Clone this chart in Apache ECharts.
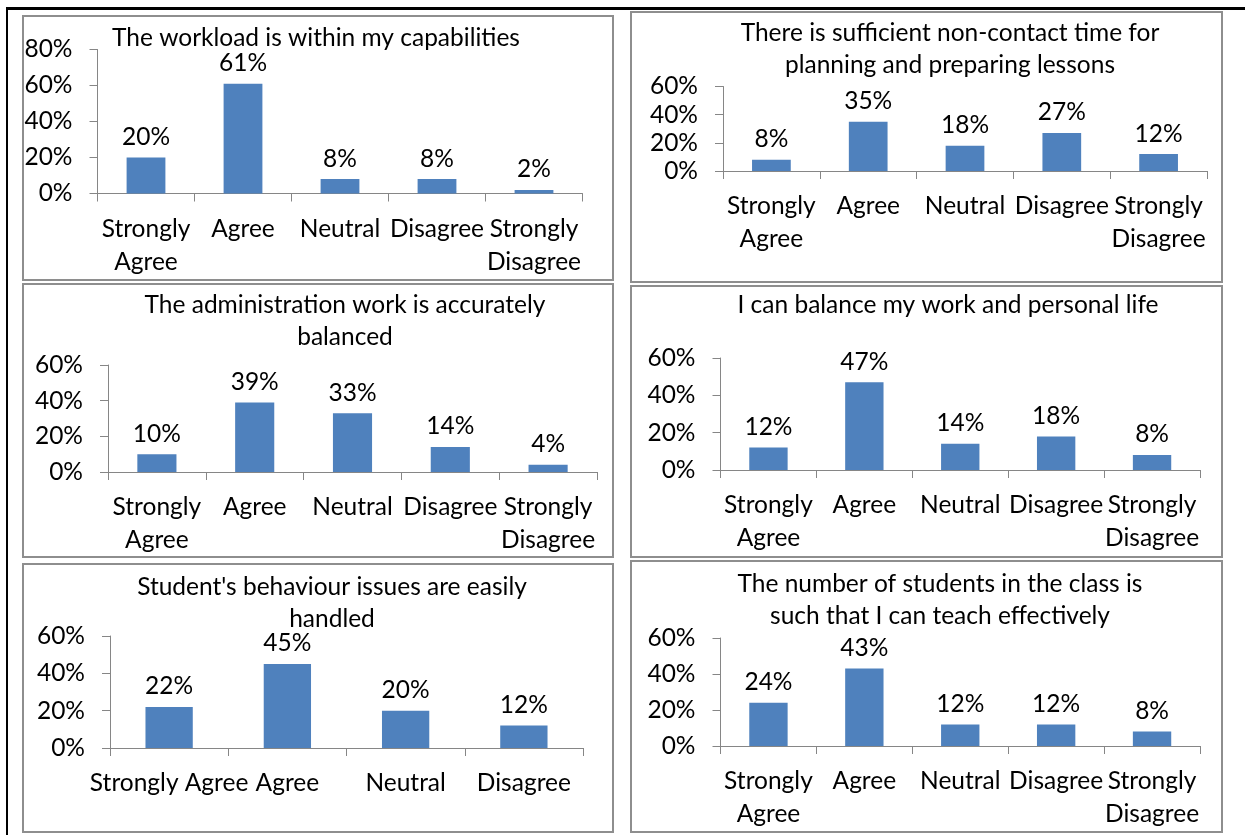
<!DOCTYPE html>
<html>
<head>
<meta charset="utf-8">
<script src="https://cdn.jsdelivr.net/npm/echarts@6/dist/echarts.min.js"></script>
<style>
  html, body { margin: 0; padding: 0; background: #fff; }
  #chart { width: 1245px; height: 835px; }
</style>
</head>
<body>
<div id="chart"></div>
<script>
// categories
const fiveCategories = ["Strongly Agree", "Agree", "Neutral", "Disagree", "Strongly Disagree"];
const fourCategories = ["Strongly Agree", "Agree", "Neutral", "Disagree"];

// values (%)
const workloadValues = [20, 61, 8, 8, 2];
const nonContactValues = [8, 35, 18, 27, 12];
const adminValues = [10, 39, 33, 14, 4];
const balanceValues = [12, 47, 14, 18, 8];
const behaviourValues = [22, 45, 20, 12];
const classSizeValues = [24, 43, 12, 12, 8];

// titles
const titles = [
    "The workload is within my capabilities",
    "There is sufficient non-contact time for\nplanning and preparing lessons",
    "The administration work is accurately\nbalanced",
    "I can balance my work and personal life",
    "Student's behaviour issues are easily\nhandled",
    "The number of students in the class is\nsuch that I can teach effectively",
];

// y axis maximums
const yMax = [80, 60, 60, 60, 60, 60];
const yStep = 20;

const FONT = "Lato";
const FONT_SIZE = 24.5;
const BAR_COLOR = "#4f81bd";
const AXIS_COLOR = "#868686";

// layout of each panel (frame, plot area, title anchor)
const layout = [
    { frame: [23, 16, 590, 264], grid: [97.5, 49.5, 485, 144], title: [316, 22], split: true },
    { frame: [631, 12, 591, 270], grid: [723, 86.5, 484, 84.5], title: [950, 17], split: true },
    { frame: [23, 284, 590, 273], grid: [108, 365, 489, 107], title: [345, 289], split: true },
    { frame: [631, 286, 591, 271], grid: [720.5, 358, 479.5, 112], title: [948, 289], split: true },
    { frame: [23, 564, 590, 268], grid: [110, 636, 473, 112], title: [332, 571], split: false },
    { frame: [631, 561, 591, 271], grid: [720.5, 638, 479.5, 108], title: [940, 568], split: true },
];

const panelData = [
    { cats: fiveCategories, values: workloadValues },
    { cats: fiveCategories, values: nonContactValues },
    { cats: fiveCategories, values: adminValues },
    { cats: fiveCategories, values: balanceValues },
    { cats: fourCategories, values: behaviourValues },
    { cats: fiveCategories, values: classSizeValues },
];

const grids = [];
const xAxes = [];
const yAxes = [];
const series = [];
const titleList = [];
const graphics = [];

// page lines
graphics.push({ type: "rect", shape: { x: 6, y: 7, width: 1239, height: 3 }, style: { fill: "#000" } });
graphics.push({ type: "rect", shape: { x: 6, y: 7, width: 2, height: 828 }, style: { fill: "#000" } });

panelData.forEach(function (p, i) {
    const L = layout[i];
    graphics.push({
        type: "rect",
        shape: { x: L.frame[0], y: L.frame[1], width: L.frame[2], height: L.frame[3] },
        style: { fill: "none", stroke: "#8e8e8e", lineWidth: 2 },
    });
    titleList.push({
        text: titles[i],
        left: L.title[0],
        top: L.title[1],
        textAlign: "center",
        padding: 0,
        textStyle: { fontFamily: FONT, fontSize: FONT_SIZE, fontWeight: "normal", color: "#000", lineHeight: 32 },
    });
    grids.push({ left: L.grid[0], top: L.grid[1], width: L.grid[2], height: L.grid[3] });
    xAxes.push({
        type: "category",
        gridIndex: i,
        data: p.cats,
        axisLine: { show: true, lineStyle: { color: AXIS_COLOR, width: 1 } },
        axisTick: { show: true, length: 8, interval: 0, lineStyle: { color: AXIS_COLOR } },
        axisLabel: {
            interval: 0,
            margin: 19,
            fontFamily: FONT,
            fontSize: FONT_SIZE,
            lineHeight: 33,
            color: "#000",
            formatter: L.split ? function (v) { return v.replace(" ", "\n"); } : "{value}",
        },
    });
    yAxes.push({
        type: "value",
        gridIndex: i,
        min: 0,
        max: yMax[i],
        interval: yStep,
        splitLine: { show: false },
        axisLine: { show: true, lineStyle: { color: AXIS_COLOR, width: 1 } },
        axisTick: { show: true, length: 8, lineStyle: { color: AXIS_COLOR } },
        axisLabel: { margin: 25, fontFamily: FONT, fontSize: FONT_SIZE, color: "#000", formatter: "{value}%" },
    });
    series.push({
        type: "bar",
        xAxisIndex: i,
        yAxisIndex: i,
        data: p.values,
        barWidth: "40%",
        itemStyle: { color: BAR_COLOR },
        label: {
            show: true,
            position: "top",
            distance: 8,
            fontFamily: FONT,
            fontSize: FONT_SIZE,
            color: "#000",
            formatter: "{c}%",
        },
    });
});

const option = {
    animation: false,
    backgroundColor: "#fff",
    title: titleList,
    grid: grids,
    xAxis: xAxes,
    yAxis: yAxes,
    series: series,
    graphic: graphics,
};

const myChart = echarts.init(document.getElementById("chart"));
myChart.setOption(option);
</script>
</body>
</html>
